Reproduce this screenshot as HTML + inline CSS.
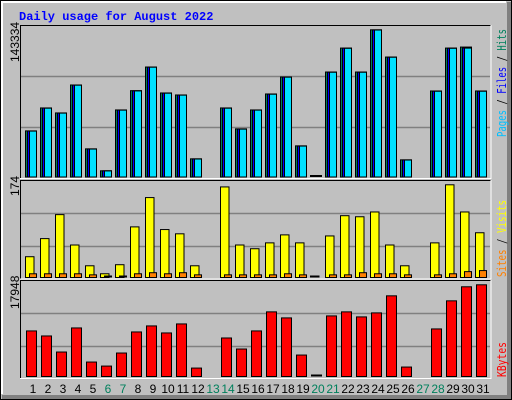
<!DOCTYPE html>
<html><head><meta charset="utf-8"><style>
html,body{margin:0;padding:0;background:#c0c0c0}
svg{display:block}
</style></head><body>
<svg id="chart" width="512" height="400" xmlns="http://www.w3.org/2000/svg">
<rect x="0" y="0" width="512" height="400" fill="#c0c0c0"/>
<rect x="507" y="2" width="5" height="398" fill="#808080"/>
<rect x="2" y="395" width="510" height="5" fill="#808080"/>
<line x1="0" y1="0.5" x2="512" y2="0.5" stroke="#000"/>
<line x1="0.5" y1="0" x2="0.5" y2="400" stroke="#000"/>
<line x1="511.5" y1="0" x2="511.5" y2="400" stroke="#000"/>
<line x1="0" y1="399.5" x2="512" y2="399.5" stroke="#000"/>
<line x1="1" y1="2" x2="506" y2="2" stroke="#fff" stroke-width="2"/>
<line x1="2" y1="1" x2="2" y2="394" stroke="#fff" stroke-width="2"/>
<text x="19" y="20" font-family="Liberation Mono, monospace" font-weight="bold" font-size="12" fill="#0000ff">Daily usage for August 2022</text>
<g id="g"></g>
</svg>
<script>
const days = [1,2,3,4,5,6,7,8,9,10,11,12,13,14,15,16,17,18,19,20,21,22,23,24,25,26,27,28,29,30,31];
const weekend = [6,7,13,14,20,21,27,28];
const hits = [44900,67250,62390,89600,27400,6030,65300,84060,107090,81830,79880,17690,0,67250,46840,65300,80850,97370,30320,0,102230,125550,102230,143334,116810,16710,0,83770,125550,126530,83770];
const files = [44800,67100,62300,89500,27300,6000,65200,83900,107000,81700,79800,17600,0,67100,46700,65200,80700,97300,30200,0,102100,125400,102100,143200,116700,16600,0,83600,125400,125600,83600];
const pages = [44700,67000,62200,89400,27200,5900,65100,83800,106900,81600,79700,17500,0,67000,46600,65100,80600,97200,30100,0,102000,125300,102000,143100,116600,16500,0,83500,125300,125500,83500];
const visits = [39,73,118,61,22,7,24,95,150,90,82,22,0,170,61,54,65,80,65,0,78,116,114,123,61,22,0,65,174,123,84];
const sites = [7,7,7,7,5,1,1,7,9,7,9,5,0,5,5,5,5,7,5,0,5,5,9,7,7,5,0,5,7,11,13];
const kbytes = [8920,7935,4790,9505,2830,2040,4595,8720,9900,8525,10290,1650,0,7540,5380,8920,12650,11470,4200,0,11860,12650,11665,12450,15790,1850,0,9310,14810,17560,17948];
const yMaxLabels = ["143334","174","17948"];

const NS="http://www.w3.org/2000/svg";
const g=document.getElementById('g');
function mk(tag,attrs,parent){const e=document.createElementNS(NS,tag);for(const k in attrs)e.setAttribute(k,attrs[k]);(parent||g).appendChild(e);return e;}
const panels=[{top:25,bot:178,base:176.5,maxY:29.3,grid:[76.5,127.5]},{top:180,bot:278.5,base:277,maxY:184.3,grid:[213.5,246.5]},{top:280,bot:378,base:376,maxY:284.3,grid:[313.5,346.5]}];
const maxes=[Math.max(...hits),Math.max(...visits),Math.max(...kbytes)];
function xs(i){return 25+15*i;}
function ys(p,v){const P=panels[p];return P.base-(v/maxes[p])*(P.base-P.maxY);}
panels.forEach((P,p)=>{
  const r=mk('rect',{x:20.5,y:P.top+0.5,width:470,height:P.bot-P.top,fill:'#c0c0c0',stroke:'none'});
  
  
  P.grid.forEach(gy=>{const l=mk('line',{x1:21,x2:490,y1:gy,y2:gy,stroke:'#808080','stroke-width':1.5});
    
    });
  mk('line',{x1:20.5,y1:P.top+0.5,x2:491,y2:P.top+0.5,stroke:'#000'});
  mk('line',{x1:20.5,y1:P.top,x2:20.5,y2:P.bot,stroke:'#000'});
  mk('line',{x1:491,y1:P.top,x2:491,y2:P.bot+0.5,stroke:'#fff'});
  mk('line',{x1:20,y1:P.bot+0.5,x2:491.5,y2:P.bot+0.5,stroke:'#fff'});
  const t=mk('text',{transform:'translate(19,'+[62,196,309][p]+') rotate(-90)','font-family':'Liberation Sans, sans-serif','font-size':12,fill:'#000'});
  t.textContent=yMaxLabels[p];
  
  
});
function bar(x,y0,y1,w,fill,name){
  const h=Math.max(0,y0-y1);
  if(h<1.5){const l=mk('rect',{x:x,y:y0-1.5,width:w,height:2,fill:'#000'});
    
    return;}
  const r=mk('rect',{x:x+0.5,y:y1+0.5,width:w-1,height:h,fill:fill,stroke:'#000'});
  
  
}
days.forEach((d,i)=>{
  const x=xs(i);
  if(hits[i]>0||i===19){
    bar(x,panels[0].base,ys(0,hits[i]),12,'#00805c','hits-bar-'+d);
    if(hits[i]>0){bar(x+2,panels[0].base,ys(0,files[i]),10,'#0000ff','files-bar-'+d);
    bar(x+4,panels[0].base,ys(0,pages[i]),8,'#00e0ff','pages-bar-'+d);}
  }
  if(visits[i]>0||i===19){
    bar(x,panels[1].base,ys(1,visits[i]),9.5,'#ffff00','visits-bar-'+d);
    if(visits[i]>0)bar(x+4,panels[1].base,ys(1,sites[i]),8,'#ff8000','sites-bar-'+d);
  }
  if(kbytes[i]>0||i===19) bar(x+1,panels[2].base,ys(2,kbytes[i]),11,'#ff0000','kbytes-bar-'+d);
  const t=mk('text',{x:x+8,y:393,'text-anchor':'middle','font-family':'Liberation Sans, sans-serif','font-size':12,fill:weekend.includes(d)?'#00805c':'#000'});
  t.textContent=d;
  
  
});
function rlabel(parts,yb,len,name){
  const t=mk('text',{transform:'translate(506,'+yb+') rotate(-90)','font-family':'DejaVu Sans Mono, monospace','font-size':12,textLength:len,lengthAdjust:'spacingAndGlyphs'});
  parts.forEach(([s,c])=>{const ts=mk('tspan',{fill:c},t);ts.textContent=s;});
  
  
}
rlabel([['Pages','#00c0ff'],[' / ','#000'],['Files','#0000ff'],[' / ','#000'],['Hits','#00805c']],137,108,'legend-pages-files-hits');
rlabel([['Sites','#ff8000'],[' / ','#000'],['Visits','#ffff00']],277,77,'legend-sites-visits');
rlabel([['KBytes','#ff0000']],377,35,'legend-kbytes');
</script>
</body></html>
